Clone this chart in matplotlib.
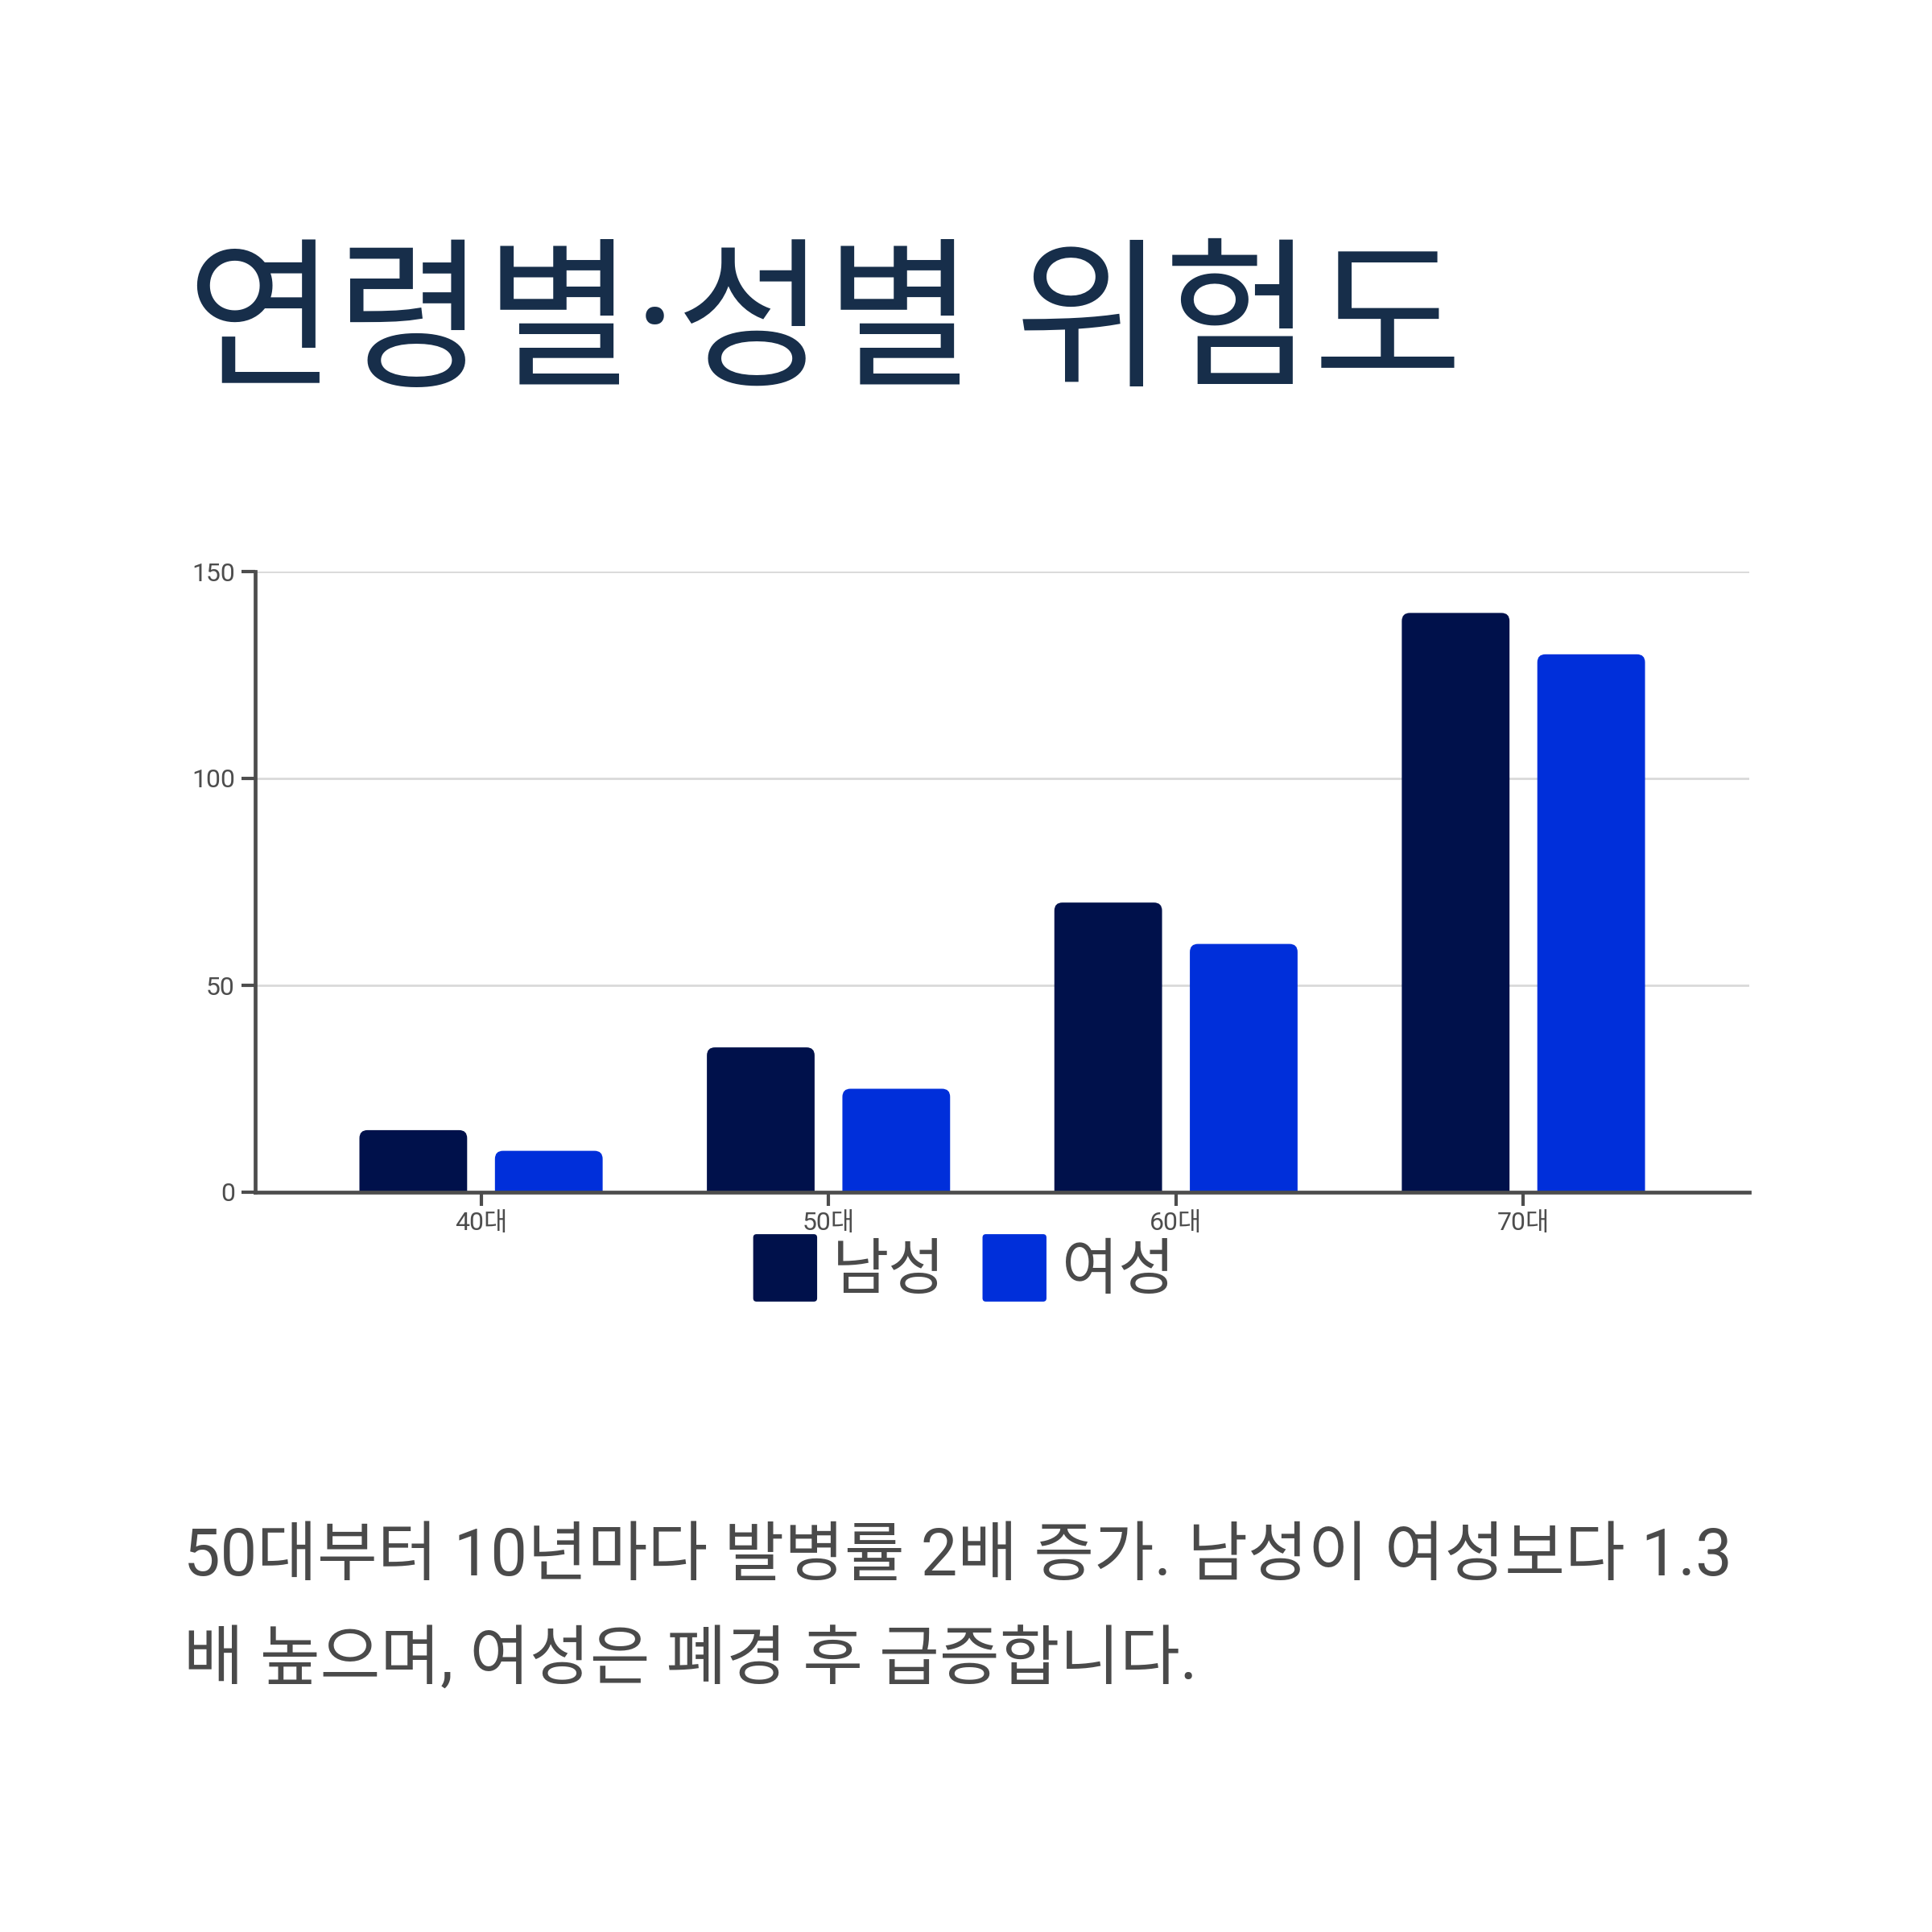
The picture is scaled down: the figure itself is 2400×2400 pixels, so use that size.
import matplotlib
matplotlib.use("Agg")
import matplotlib.pyplot as plt
from matplotlib.patches import FancyBboxPatch, Rectangle
from matplotlib.legend_handler import HandlerPatch
import numpy as np

# ---- data ----
categories = ["40대", "50대", "60대", "70대"]
male = [15, 35, 70, 140]
female = [10, 25, 60, 130]
series_names = ["남성", "여성"]
yticks = [0, 50, 100, 150]
title = "연령별·성별 위험도"
subtitle_lines = ["50대부터 10년마다 발병률 2배 증가. 남성이 여성보다 1.3",
                  "배 높으며, 여성은 폐경 후 급증합니다."]

MALE_C = "#00114B"
FEMALE_C = "#002FDA"
AXIS_C = "#4D4D4D"
GRID_C = "#D9D9D9"
TITLE_C = "#172E4A"
TEXT_C = "#4A4A4A"
FONTS = ["Roboto", "Noto Sans CJK KR", "DejaVu Sans"]
plt.rcParams["font.family"] = FONTS

W = H = 2400
fig = plt.figure(figsize=(24, 24), dpi=100)
fig.patch.set_facecolor("white")

ax = fig.add_axes([317 / W, 1 - 1481 / H, (2173 - 317) / W, (1481 - 710) / H])
ax.set_xlim(-0.65, 3.65)
ax.set_ylim(0, 150)

x = np.arange(len(categories))
bw = 0.31
off = 0.195
bars_m = ax.bar(x - off, male, bw, color=MALE_C, label=series_names[0])
bars_f = ax.bar(x + off, female, bw, color=FEMALE_C, label=series_names[1])

# rounded top corners (bottom corners pushed below zero and clipped by the axes)
fig.canvas.draw()
p0 = ax.transData.transform((0, 0))
p1 = ax.transData.transform((1, 1))
px_x = p1[0] - p0[0]
px_y = p1[1] - p0[1]
aspect = px_x / px_y
r_px = 10
r = r_px / px_x
ry = r_px / px_y
for bars in (bars_m, bars_f):
    for b in bars:
        b.set_visible(False)
        bx, by, bwid, bh = b.get_x(), b.get_y(), b.get_width(), b.get_height()
        fc = b.get_facecolor()
        fb = FancyBboxPatch((bx, by - ry * 1.5), bwid, bh + ry * 1.5,
                            boxstyle=f"round,pad=0,rounding_size={r}",
                            mutation_aspect=aspect, facecolor=fc,
                            edgecolor="none", linewidth=0, zorder=2)
        ax.add_patch(fb)

ax.set_yticks(yticks)
ax.set_xticks(x)
ax.set_xticklabels(categories)
ax.grid(axis="y", color=GRID_C, linewidth=2.0)
ax.set_axisbelow(True)
for s in ("top", "right"):
    ax.spines[s].set_visible(False)
for s in ("left", "bottom"):
    ax.spines[s].set_color(AXIS_C)
    ax.spines[s].set_linewidth(3.4)
    ax.spines[s].set_zorder(5)
ax.tick_params(axis="both", colors=AXIS_C, width=3.0, length=12,
               labelsize=23, labelcolor=AXIS_C)
ax.tick_params(axis="y", pad=6)
ax.tick_params(axis="x", pad=5)
for lab in ax.get_xticklabels() + ax.get_yticklabels():
    lab.set_family(FONTS)


def make_round(legend, orig_handle, xdescent, ydescent, width, height, fontsize):
    return FancyBboxPatch((-xdescent, -ydescent), width, height,
                          boxstyle="round,pad=0,rounding_size=3")


proxy_m = Rectangle((0, 0), 1, 1, facecolor=MALE_C, edgecolor="none")
proxy_f = Rectangle((0, 0), 1, 1, facecolor=FEMALE_C, edgecolor="none")
hp = HandlerPatch(patch_func=make_round)
leg = fig.legend(handles=[proxy_m, proxy_f], labels=series_names,
                 loc="center", bbox_to_anchor=(0.499, 1 - 1575 / H),
                 ncol=2, frameon=False, fontsize=55,
                 handlelength=1.04, handleheight=1.31, handletextpad=0.25,
                 columnspacing=0.6,
                 handler_map={proxy_m: hp, proxy_f: hp})
for t in leg.get_texts():
    t.set_color(TEXT_C)
    t.set_family(FONTS)

fig.text(232 / W, 1 - 464 / H, title, fontsize=145, color=TITLE_C,
         ha="left", va="baseline", family=FONTS)

fig.text(228 / W, 1 - 1957 / H, subtitle_lines[0], fontsize=58.5, color=TEXT_C,
         ha="left", va="baseline", family=FONTS)
fig.text(228 / W, 1 - 2087 / H, subtitle_lines[1], fontsize=58.5, color=TEXT_C,
         ha="left", va="baseline", family=FONTS)

fig.savefig("out.png", dpi=100, facecolor="white")
